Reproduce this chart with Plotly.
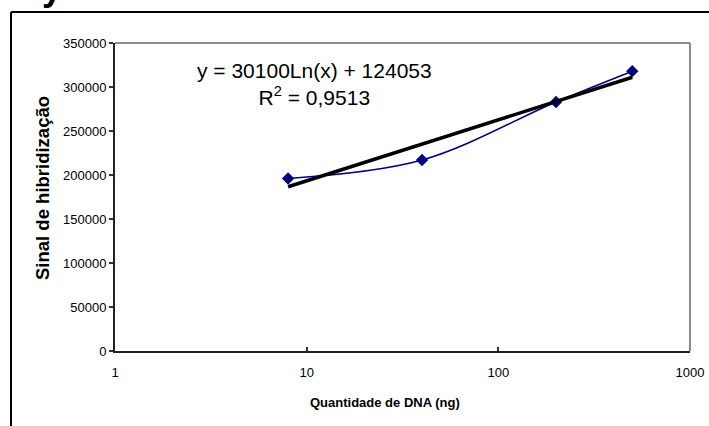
import numpy as np
import plotly.graph_objects as go

# Measured hybridization signal vs. amount of DNA
dna_ng = [8, 40, 200, 500]
signal = [196000, 217000, 283000, 318000]

# Logarithmic trendline y = a*ln(x) + b
trend_a = 30100
trend_b = 124053
trend_label = "y = 30100Ln(x) + 124053"
r2_label = "R<sup>2</sup> = 0,9513"

x_ticks = [1, 10, 100, 1000]
x_title = "Quantidade de DNA (ng)"
y_title = "Sinal de hibridização"

W, H = 709, 426
L, R, T, B = 115, 19, 43, 75
pw, ph = W - L - R, H - T - B


def px_x(p):
    return (p - L) / pw


def px_y(p):
    return (H - B - p) / ph


trend_x = np.geomspace(min(dna_ng), max(dna_ng), 200)
trend_y = trend_a * np.log(trend_x) + trend_b

navy = "#000080"
font = "Liberation Sans, Arial, sans-serif"

fig = go.Figure()
fig.add_trace(go.Scatter(
    x=dna_ng, y=signal, mode="lines+markers",
    line=dict(color=navy, width=1.6, shape="spline", smoothing=1),
    marker=dict(symbol="diamond", size=9.5, color=navy, line=dict(width=0)),
    showlegend=False, hoverinfo="x+y",
))
fig.add_trace(go.Scatter(
    x=trend_x, y=trend_y, mode="lines",
    line=dict(color="black", width=3.5),
    showlegend=False, hoverinfo="skip",
))

fig.update_layout(
    width=W, height=H,
    margin=dict(l=L, r=R, t=T, b=B, autoexpand=False),
    paper_bgcolor="white", plot_bgcolor="white",
    font=dict(family=font, color="black", size=13),
    xaxis=dict(
        type="log", range=[0, 3], tickvals=x_ticks, ticktext=[str(v) for v in x_ticks],
        ticks="inside", ticklen=4, tickwidth=1.5, tickcolor="#333",
        showline=True, linecolor="#222", linewidth=2,
        showgrid=False, zeroline=False, tickfont=dict(size=13),
        ticklabelstandoff=8,
    ),
    yaxis=dict(
        range=[0, 350000], dtick=50000, tickformat="d",
        ticks="outside", ticklen=4, tickwidth=1.5, tickcolor="#333",
        showline=True, linecolor="#222", linewidth=2,
        showgrid=False, zeroline=False, tickfont=dict(size=13),
    ),
    shapes=[
        # gray top and right border of the plot area
        dict(type="line", xref="paper", yref="paper", x0=0, x1=1, y0=1, y1=1,
             line=dict(color="#8c8c8c", width=2)),
        dict(type="line", xref="paper", yref="paper", x0=1, x1=1, y0=0, y1=1,
             line=dict(color="#8c8c8c", width=2)),
        # outer chart frame
        dict(type="line", xref="paper", yref="paper",
             x0=px_x(11), x1=px_x(11), y0=px_y(440), y1=px_y(12),
             line=dict(color="black", width=2)),
        dict(type="line", xref="paper", yref="paper",
             x0=px_x(11), x1=px_x(720), y0=px_y(12), y1=px_y(12),
             line=dict(color="black", width=2)),
    ],
    annotations=[
        dict(text=trend_label + "<br>" + r2_label, xref="paper", yref="paper",
             x=px_x(314), y=px_y(84), xanchor="center", yanchor="middle",
             showarrow=False, align="center", font=dict(size=21)),
        dict(text="<b>" + x_title + "</b>", xref="paper", yref="paper",
             x=px_x(385), y=px_y(402), xanchor="center", yanchor="middle",
             showarrow=False, font=dict(size=13)),
        dict(text="<b>" + y_title + "</b>", xref="paper", yref="paper",
             x=px_x(42), y=px_y(188), xanchor="center", yanchor="middle",
             textangle=-90, showarrow=False, font=dict(size=18.5)),
        # heading letter cut off by the top edge of the page
        dict(text="<b>y</b>", xref="paper", yref="paper",
             x=px_x(52), y=px_y(10), xanchor="center", yanchor="bottom",
             showarrow=False, font=dict(size=36)),
    ],
)

fig.write_html("out.html")
